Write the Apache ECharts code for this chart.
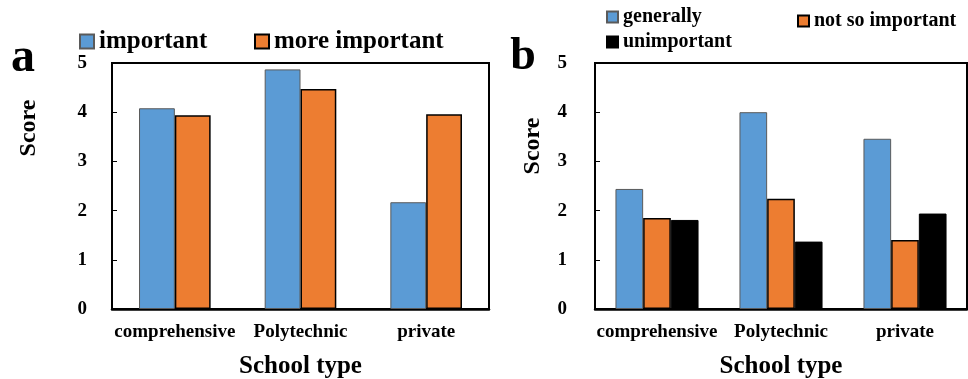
<!DOCTYPE html>
<html>
<head>
<meta charset="utf-8">
<script src="https://cdn.jsdelivr.net/npm/echarts@6/dist/echarts.min.js"></script>
<style>
  html, body { margin: 0; padding: 0; background: #fff; }
  #chart { width: 968px; height: 379px; }
</style>
</head>
<body>
<div id="chart"></div>
<script>
// School types on the category axes
var schoolTypes = ['comprehensive', 'Polytechnic', 'private'];

// Panel a: scores by importance
var important = [4.08, 4.87, 2.17];
var moreImportant = [3.94, 4.47, 3.96];

// Panel b: scores by importance
var generally = [2.44, 4.00, 3.46];
var notSoImportant = [1.85, 2.24, 1.40];
var unimportant = [1.81, 1.37, 1.94];

// Score axis range
var scoreMin = 0, scoreMax = 5, scoreStep = 1;

var FONT = '"Liberation Serif", "Times New Roman", serif';
var BLUE = '#5B9BD5', ORANGE = '#ED7D31', BLACK = '#000000';

function legendFor(name, left, top, size, fontSize) {
  return {
    data: [name], left: left, top: top, padding: 0,
    icon: 'rect', itemWidth: size, itemHeight: size,
    selectedMode: false,
    textStyle: { fontFamily: FONT, fontWeight: 'bold', fontSize: fontSize, color: '#000' }
  };
}

function xAxisFor(gridIndex) {
  return {
    type: 'category', gridIndex: gridIndex, data: schoolTypes,
    name: 'School type', nameLocation: 'middle', nameGap: 45,
    nameTextStyle: { fontFamily: FONT, fontWeight: 'bold', fontSize: 25, color: '#000' },
    axisLine: { lineStyle: { color: '#000', width: 2.5 } },
    axisTick: { inside: true, length: 5, interval: 0, lineStyle: { color: '#000', width: 1.5 } },
    axisLabel: { margin: 14, interval: 0, fontFamily: FONT, fontWeight: 'bold', fontSize: 19, color: '#000' },
    splitLine: { show: false }
  };
}

function yAxisFor(gridIndex, margin) {
  return {
    type: 'value', gridIndex: gridIndex,
    min: scoreMin, max: scoreMax, interval: scoreStep,
    axisLine: { show: true, lineStyle: { color: '#000', width: 2 } },
    axisTick: { show: true, inside: true, length: 5, lineStyle: { color: '#000', width: 1 } },
    axisLabel: { margin: margin, fontFamily: FONT, fontWeight: 'bold', fontSize: 19, color: '#000' },
    splitLine: { show: false }
  };
}

function barSeries(name, data, color, border, borderWidth, axisIndex, gap) {
  return {
    type: 'bar', name: name, data: data,
    xAxisIndex: axisIndex, yAxisIndex: axisIndex,
    barGap: '0%', barCategoryGap: gap,
    itemStyle: { color: color, borderColor: border, borderWidth: borderWidth },
    emphasis: { disabled: true }
  };
}

function textEl(text, x, y, size, rotate) {
  return {
    type: 'text', x: x, y: y, rotation: rotate ? Math.PI / 2 : 0,
    style: {
      text: text, fontFamily: FONT, fontWeight: 'bold', fontSize: size,
      fill: '#000', align: 'center', verticalAlign: 'middle'
    }
  };
}

function gridAt(left, right) {
  return {
    left: left, right: right, top: 63, bottom: 70,
    containLabel: false, outerBoundsMode: 'none',
    show: true, borderColor: '#000', borderWidth: 2
  };
}

var chart = echarts.init(document.getElementById('chart'), null, { renderer: 'canvas' });

chart.setOption({
  animation: false,
  backgroundColor: '#fff',
  grid: [gridAt(112, 479), gridAt(595, 1)],
  legend: [
    legendFor('important', 79, 29, 14, 25),
    legendFor('more important', 254, 29, 14, 25),
    legendFor('generally', 606, 7, 11, 20),
    legendFor('not so important', 797, 11, 11, 20),
    legendFor('unimportant', 606, 32, 11, 20)
  ],
  xAxis: [xAxisFor(0), xAxisFor(1)],
  yAxis: [yAxisFor(0, 25), yAxisFor(1, 28)],
  series: [
    barSeries('important', important, BLUE, '#5a5a5a', 1, 0, '43%'),
    barSeries('more important', moreImportant, ORANGE, BLACK, 1.5, 0, '43%'),
    barSeries('generally', generally, BLUE, '#5a5a5a', 1, 1, '33%'),
    barSeries('not so important', notSoImportant, ORANGE, BLACK, 1.5, 1, '33%'),
    barSeries('unimportant', unimportant, BLACK, BLACK, 1, 1, '33%')
  ],
  graphic: [
    textEl('a', 23, 59, 48, false),
    textEl('b', 523, 57, 46, false),
    textEl('Score', 29, 128, 24, true),
    textEl('Score', 533, 146, 24, true)
  ]
});
</script>
</body>
</html>
